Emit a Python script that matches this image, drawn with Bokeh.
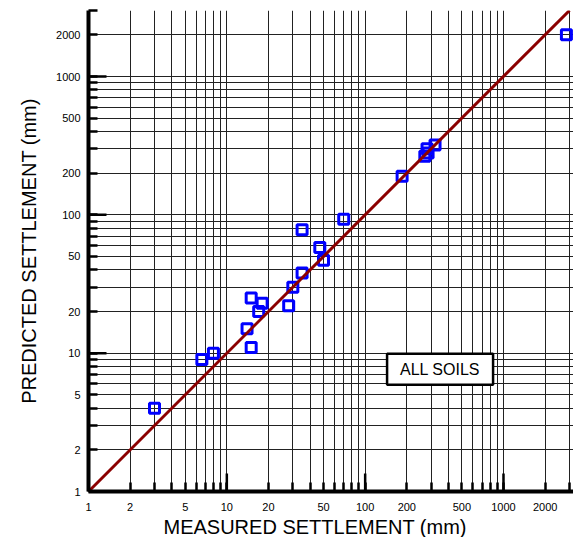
import math
from bokeh.plotting import figure
from bokeh.models import FixedTicker, Title
from bokeh.embed import file_html
from bokeh.resources import INLINE
from bokeh.core.properties import value

# ---- data ----
measured = [3, 6.6, 8, 15, 14, 15, 18, 17, 28, 30, 35, 35, 47, 50, 70,
            185, 270, 280, 285, 320, 2850]
predicted = [4, 9, 10, 11, 15, 25, 23, 20, 22, 30, 38, 78, 58, 47, 93,
             190, 265, 300, 280, 320, 2000]

line_x = [1, 3000]
line_y = [1, 3000]

tick_values = [m * 10 ** k for k in range(4) for m in range(1, 10) if m * 10 ** k <= 3000]
decade_ticks = [1, 10, 100, 1000]
labeled_ticks = [1, 2, 5, 10, 20, 50, 100, 200, 500, 1000, 2000]
tick_labels = ["1", "2", "5", "10", "20", "50", "100", "200", "500", "1000", "2000"]
grid_values = [t for t in tick_values if t > 1]

box_text = "ALL SOILS"
box_x, box_y = 348, 7.66

FONT = "Liberation Sans"

p = figure(width=573, height=537, x_axis_type="log", y_axis_type="log",
           x_range=(1, 3207), y_range=(1, 3000),
           output_backend="svg", toolbar_location=None,
           min_border_left=88, min_border_right=0, min_border_top=10, min_border_bottom=45)
p.outline_line_color = None
p.background_fill_color = "white"
p.border_fill_color = "white"

overrides = {t: "" for t in tick_values}
for t, lab in zip(labeled_ticks, tick_labels):
    overrides[t] = lab

for ax in (p.xaxis[0], p.yaxis[0]):
    ax.ticker = FixedTicker(ticks=tick_values, minor_ticks=[])
    ax.major_label_overrides = overrides
    ax.major_tick_in = 9
    ax.major_tick_out = 0
    ax.major_tick_line_width = 2.5
    ax.major_tick_line_color = "black"
    ax.minor_tick_line_color = None
    ax.axis_line_width = 4
    ax.axis_line_color = "black"
    ax.major_label_text_font = FONT
    ax.major_label_text_font_size = "11px"
    ax.major_label_text_color = "black"
p.xaxis[0].major_label_standoff = 11
p.yaxis[0].major_label_standoff = 8
p.yaxis[0].major_label_orientation = "horizontal"

p.yaxis[0].axis_label = "PREDICTED SETTLEMENT (mm)"
p.yaxis[0].axis_label_text_font = FONT
p.yaxis[0].axis_label_text_font_size = "20px"
p.yaxis[0].axis_label_text_font_style = "normal"
p.yaxis[0].axis_label_text_color = "black"
p.yaxis[0].axis_label_standoff = 13

p.add_layout(Title(text="MEASURED SETTLEMENT (mm)", align="left", offset=75,
                   standoff=0, text_font=FONT, text_font_size="20px",
                   text_font_style="normal", text_color="black"), "below")

for g in (p.xgrid[0], p.ygrid[0]):
    g.ticker = FixedTicker(ticks=grid_values, minor_ticks=[])
    g.grid_line_color = "#222222"
    g.grid_line_width = 1

# longer ticks at the decades
p.rect(x=decade_ticks, y=[1] * len(decade_ticks), width=2.5, height=36,
       width_units="screen", height_units="screen", color="black", line_width=0)
p.rect(x=[1] * len(decade_ticks), y=decade_ticks, width=36, height=2.5,
       width_units="screen", height_units="screen", color="black", line_width=0)

# data squares
p.scatter(measured, predicted, marker="square", size=10, line_width=3,
          line_color="#0000FF", fill_color=None)

# 1:1 line
p.line(line_x, line_y, line_color="#8B0000", line_width=3)

# ALL SOILS box
p.rect(x=[box_x], y=[box_y], width=106, height=31, width_units="screen",
       height_units="screen", fill_color="white", line_color="black", line_width=2.5)
p.text(x=[box_x], y=[box_y], text=[box_text], text_align="center", text_baseline="middle",
       text_font=value(FONT), text_font_size="16px", text_color="black")

open("out.html", "w").write(file_html(p, INLINE))
